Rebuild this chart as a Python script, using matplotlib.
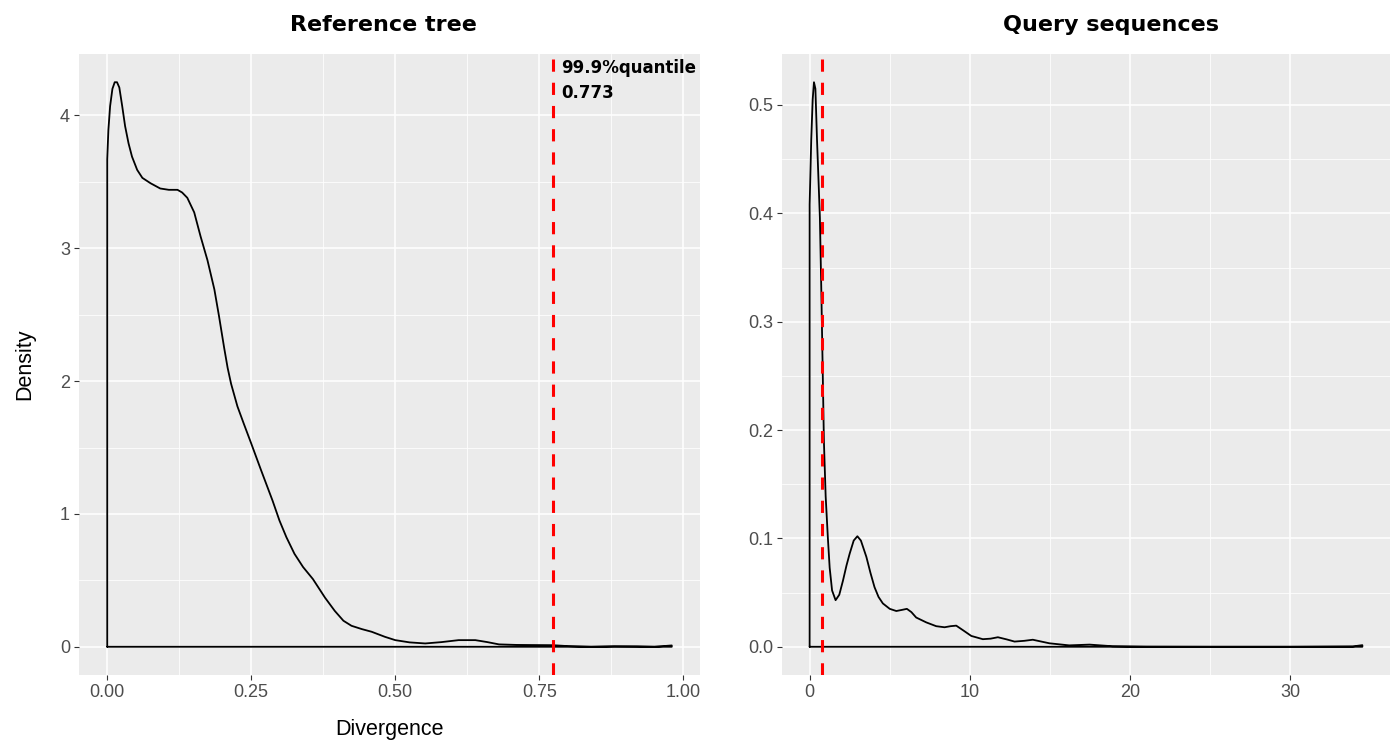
import matplotlib
matplotlib.use("Agg")
import matplotlib.pyplot as plt
import numpy as np

# ---------------- data ----------------
ref_x = [0.0, 0.002, 0.005, 0.009, 0.013, 0.017, 0.021, 0.026, 0.031, 0.037, 0.043,
         0.052, 0.061, 0.075, 0.092, 0.107, 0.122, 0.130, 0.139, 0.151, 0.162, 0.174,
         0.186, 0.194, 0.203, 0.209, 0.215, 0.226, 0.237, 0.250, 0.267, 0.287, 0.299,
         0.311, 0.325, 0.340, 0.357, 0.378, 0.395, 0.410, 0.424, 0.442, 0.459, 0.482,
         0.500, 0.525, 0.552, 0.580, 0.610, 0.639, 0.660, 0.680, 0.710, 0.738, 0.773,
         0.800, 0.840, 0.880, 0.920, 0.950, 0.980]
ref_y = [3.67, 3.89, 4.07, 4.20, 4.25, 4.25, 4.21, 4.07, 3.92, 3.79, 3.69,
         3.59, 3.53, 3.49, 3.45, 3.44, 3.44, 3.42, 3.38, 3.27, 3.09, 2.91,
         2.69, 2.49, 2.25, 2.10, 1.98, 1.81, 1.68, 1.53, 1.33, 1.10, 0.95,
         0.825, 0.70, 0.60, 0.51, 0.37, 0.27, 0.196, 0.158, 0.133, 0.113, 0.075,
         0.050, 0.033, 0.025, 0.035, 0.050, 0.050, 0.035, 0.018, 0.014, 0.013, 0.012,
         0.005, 0.0, 0.004, 0.003, 0.0, 0.010]

qry_x = [0.0, 0.10, 0.19, 0.27, 0.36, 0.46, 0.64, 0.73, 0.81, 0.89, 1.00, 1.14, 1.25,
         1.40, 1.62, 1.85, 2.08, 2.30, 2.50, 2.75, 2.98, 3.20, 3.54, 3.80, 4.05, 4.30,
         4.57, 5.00, 5.41, 5.75, 6.07, 6.35, 6.65, 7.28, 7.90, 8.42, 8.80, 9.15, 9.60,
         10.09, 10.81, 11.30, 11.75, 12.30, 12.79, 13.40, 13.93, 14.40, 14.97, 16.20,
         17.47, 18.90, 21.0, 25.0, 30.0, 33.9, 34.5]
qry_y = [0.408, 0.468, 0.505, 0.521, 0.515, 0.468, 0.396, 0.328, 0.260, 0.190, 0.139,
         0.100, 0.073, 0.052, 0.043, 0.048, 0.061, 0.075, 0.086, 0.098, 0.102, 0.098,
         0.083, 0.068, 0.055, 0.046, 0.040, 0.035, 0.033, 0.034, 0.035, 0.032, 0.027,
         0.0225, 0.019, 0.018, 0.019, 0.0195, 0.015, 0.010, 0.007, 0.0075, 0.0088,
         0.0068, 0.0048, 0.0055, 0.0065, 0.005, 0.0032, 0.0013, 0.002, 0.0005, 0.0001,
         0.0, 0.0, 0.0003, 0.0015]

quantile = 0.773
quant_label = "99.9%quantile\n0.773"

titles = ["Reference tree", "Query sequences"]
ref_xticks = [0.00, 0.25, 0.50, 0.75, 1.00]
ref_xticklabels = ["0.00", "0.25", "0.50", "0.75", "1.00"]
ref_yticks = [0, 1, 2, 3, 4]
qry_xticks = [0, 10, 20, 30]
qry_yticks = [0.0, 0.1, 0.2, 0.3, 0.4, 0.5]
qry_yticklabels = ["0.0", "0.1", "0.2", "0.3", "0.4", "0.5"]

# ---------------- style ----------------
W, H = 1395, 744
fig = plt.figure(figsize=(W / 100, H / 100), dpi=100)
BG = "#EBEBEB"
TICKFONT = "Liberation Sans"


def px_axes(l, r, t, b):
    return fig.add_axes([l / W, 1 - b / H, (r - l) / W, (b - t) / H])


def style(ax, xmaj, xmin, ymaj, ymin, xlabels, ylabels):
    ax.set_facecolor(BG)
    for s in ax.spines.values():
        s.set_visible(False)
    ax.set_xticks(xmaj)
    ax.set_xticklabels(xlabels)
    ax.set_yticks(ymaj)
    ax.set_yticklabels(ylabels)
    ax.set_xticks(xmin, minor=True)
    ax.set_yticks(ymin, minor=True)
    ax.grid(which="major", color="white", linewidth=1.1)
    ax.grid(which="minor", color="white", linewidth=0.55)
    ax.set_axisbelow(True)
    ax.tick_params(which="major", length=3.5, width=0.8, color="#333333",
                   labelcolor="#4D4D4D", labelsize=13, pad=3)
    ax.tick_params(which="minor", length=0)
    for lab in ax.get_xticklabels() + ax.get_yticklabels():
        lab.set_fontfamily(TICKFONT)


def density(ax, xs, ys):
    px = [xs[0]] + list(xs) + [xs[-1], xs[0]]
    py = [0.0] + list(ys) + [0.0, 0.0]
    ax.plot(px, py, color="black", linewidth=1.3, solid_joinstyle="round",
            solid_capstyle="round")


# ---------------- left panel ----------------
ax1 = px_axes(79, 700, 54, 675)
style(ax1, ref_xticks, [0.125, 0.375, 0.625, 0.875], ref_yticks,
      [0.5, 1.5, 2.5, 3.5], ref_xticklabels, [str(v) for v in ref_yticks])
density(ax1, ref_x, ref_y)
ax1.axvline(quantile, color="#FF0000", linewidth=2.2, linestyle=(0, (4.0, 3.6)))
xr = max(ref_x) - min(ref_x)
yr = max(ref_y)
ax1.set_xlim(min(ref_x) - 0.05 * xr, max(ref_x) + 0.05 * xr)
ax1.set_ylim(-0.05 * yr, yr * 1.05)
ax1.text(quantile + 0.015, 0.992, quant_label, transform=ax1.get_xaxis_transform(),
         ha="left", va="top", fontsize=12, fontweight="bold",
         family="DejaVu Sans", linespacing=1.5, color="black")
ax1.set_xlabel("Divergence", fontsize=15.5, family=TICKFONT, labelpad=13)
ax1.set_ylabel("Density", fontsize=15.5, family=TICKFONT, labelpad=18)

# ---------------- right panel ----------------
ax2 = px_axes(782, 1390, 54, 675)
style(ax2, qry_xticks, [5, 15, 25], qry_yticks,
      [0.05, 0.15, 0.25, 0.35, 0.45], [str(v) for v in qry_xticks], qry_yticklabels)
density(ax2, qry_x, qry_y)
ax2.axvline(quantile, color="#FF0000", linewidth=2.2, linestyle=(0, (4.0, 3.6)))
xr2 = max(qry_x) - min(qry_x)
yr2 = max(qry_y)
ax2.set_xlim(min(qry_x) - 0.05 * xr2, max(qry_x) + 0.05 * xr2)
ax2.set_ylim(-0.05 * yr2, yr2 * 1.05)

# ---------------- titles ----------------
for cx, t in zip([383, 1111], titles):
    fig.text(cx / W, 1 - 25 / H, t, ha="center", va="center",
             fontsize=16, fontweight="bold", family="DejaVu Sans")

fig.savefig("out.png", dpi=100, facecolor="white")
